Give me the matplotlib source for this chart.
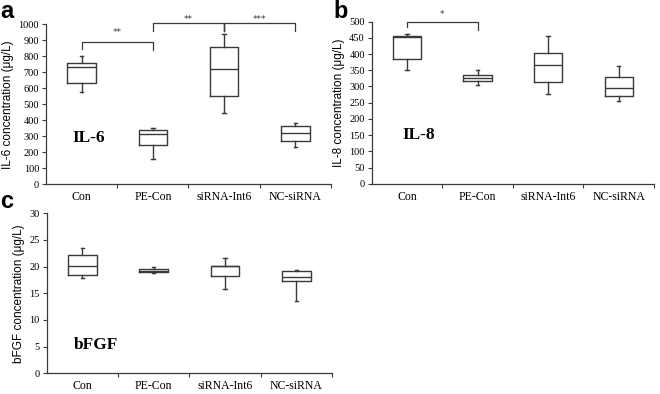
import matplotlib
matplotlib.use("Agg")
import matplotlib.pyplot as plt

categories = ['Con', 'PE-Con', 'siRNA-Int6', 'NC-siRNA']

il6_whislo = [579, 156, 446, 231]
il6_q1 = [633, 244, 552, 269]
il6_med = [733, 314, 720, 319]
il6_q3 = [756, 339, 858, 362]
il6_whishi = [802, 350, 939, 381]

il8_whislo = [350, 304, 276, 256]
il8_q1 = [384, 318, 314, 270]
il8_med = [452, 326, 366, 295]
il8_q3 = [456, 335, 402, 330]
il8_whishi = [462, 352, 457, 364]

bfgf_whislo = [17.9, 18.75, 15.9, 13.5]
bfgf_q1 = [18.4, 19.0, 18.2, 17.4]
bfgf_med = [20.2, 19.25, 20.05, 18.1]
bfgf_q3 = [22.25, 19.55, 20.1, 19.2]
bfgf_whishi = [23.56, 20.0, 21.56, 19.44]

il6_yticks = list(range(0, 1001, 100))
il8_yticks = list(range(0, 501, 50))
bfgf_yticks = list(range(0, 31, 5))

LC = '#3a3a3a'
SERIF = 'Liberation Serif'
SANS = 'Liberation Sans'

fig = plt.figure(figsize=(6.6, 3.94), dpi=100)
ax_a = fig.add_axes([46 / 660, 1 - 184.3 / 394, 285 / 660, 160 / 394])
ax_b = fig.add_axes([371.7 / 660, 1 - 183.7 / 394, 282.3 / 660, 162 / 394])
ax_c = fig.add_axes([46.7 / 660, 1 - 373.3 / 394, 285.3 / 660, 160 / 394])


def draw_panel(ax, lo, q1, med, q3, hi, yticks, ylabel, name, name_xy, letter, letter_xy):
    stats = []
    for i, c in enumerate(categories):
        stats.append(dict(label=c, whislo=lo[i], q1=q1[i], med=med[i], q3=q3[i], whishi=hi[i], fliers=[]))
    pos = list(range(1, len(categories) + 1))
    ax.bxp(stats, positions=pos, widths=0.4, showfliers=False, capwidths=0.05,
           boxprops=dict(color=LC, lw=1.0),
           whiskerprops=dict(color=LC, lw=1.0),
           capprops=dict(color=LC, lw=1.0),
           medianprops=dict(color=LC, lw=1.0))
    ax.set_xlim(0.5, len(categories) + 0.5)
    ax.set_ylim(yticks[0], yticks[-1])
    ax.set_yticks(yticks)
    ax.set_yticklabels([str(t) for t in yticks], fontfamily=SERIF, fontsize=7.5)
    ax.set_xticks([p + 0.5 for p in pos[:-1]] + [len(categories) + 0.5])
    ax.set_xticklabels([])
    ax.set_xticks(pos, minor=True)
    ax.set_xticklabels(categories, minor=True, fontfamily=SERIF, fontsize=8.5)
    ax.tick_params(axis='x', which='minor', length=0, pad=5)
    ax.tick_params(axis='x', which='major', length=3, width=0.8, color=LC)
    ax.tick_params(axis='y', length=3, width=0.8, color=LC, pad=2)
    for s in ['top', 'right']:
        ax.spines[s].set_visible(False)
    for s in ['left', 'bottom']:
        ax.spines[s].set_color(LC)
        ax.spines[s].set_linewidth(0.9)
    ax.set_ylabel(ylabel, fontfamily=SANS, fontsize=8.5, labelpad=3)
    ax.text(name_xy[0], name_xy[1], name, fontfamily=SERIF, fontweight='bold', fontsize=12.5,
            ha='center', va='center')
    fig.text(letter_xy[0], letter_xy[1], letter, fontfamily=SANS, fontweight='bold', fontsize=17,
             ha='left', va='top')


def bracket(ax, x1, x2, y, y1end, y2end, label, ly, fs=6.5):
    ax.plot([x1, x1, x2, x2], [y1end, y, y, y2end], color=LC, lw=0.9, clip_on=False)
    ax.text((x1 + x2) / 2, ly, label, ha='center', va='center', fontsize=fs, color=LC, clip_on=False)


draw_panel(ax_a, il6_whislo, il6_q1, il6_med, il6_q3, il6_whishi, il6_yticks,
           'IL-6 concentration (\u03bcg/L)', 'IL-6', (1.1, 290), 'a', (0.0, 1.0))
draw_panel(ax_b, il8_whislo, il8_q1, il8_med, il8_q3, il8_whishi, il8_yticks,
           'IL-8 concentration (\u03bcg/L)', 'IL-8', (1.17, 150), 'b', (333 / 660, 1.0))
draw_panel(ax_c, bfgf_whislo, bfgf_q1, bfgf_med, bfgf_q3, bfgf_whishi, bfgf_yticks,
           'bFGF concentration (\u03bcg/L)', 'bFGF', (1.19, 5.3), 'c', (0.0, 1 - 190 / 394))

bracket(ax_a, 1, 2, 887, 844, 837, '**', 950)
bracket(ax_a, 2, 3, 1006, 958, 958, '**', 1029)
bracket(ax_a, 3, 4, 1006, 958, 958, '***', 1029)
ax_a.plot([3, 3], [1006, 958], color=LC, lw=0.9, clip_on=False)
bracket(ax_b, 1, 2, 500, 485, 474, '*', 521)

fig.savefig('out.png', dpi=100)
